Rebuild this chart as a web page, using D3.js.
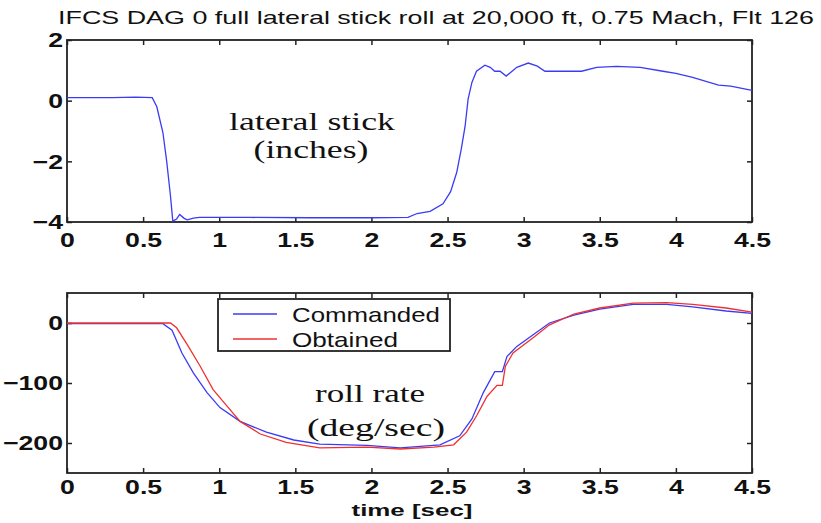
<!DOCTYPE html>
<html>
<head>
<meta charset="utf-8">
<script src="https://cdn.jsdelivr.net/npm/d3@7"></script>
<style>
  body { margin: 0; background: #fff; }
  svg { display: block; }
  .tick text { font-family: "Liberation Sans", Arial, sans-serif; font-weight: bold; font-size: 21px; fill: #111; }
  .domain { display: none; }
  .tick line { stroke: #222; stroke-width: 1.5; }
</style>
</head>
<body>
<svg width="821" height="523"></svg>
<script>
// 标题与标签
var title = "IFCS DAG 0 full lateral stick roll at 20,000 ft, 0.75 Mach, Flt 126";
var timeTicks = [0, 0.5, 1, 1.5, 2, 2.5, 3, 3.5, 4, 4.5];
var stickTicks = [-4, -2, 0, 2];
var rollTicks = [-200, -100, 0];
var seriesNames = ["Commanded", "Obtained"];
var seriesColors = ["#3b3bf5", "#f03030"];

// 横向杆位移 (inches)
var stickT = [0, 0.3, 0.45, 0.56, 0.59, 0.63, 0.655, 0.68, 0.695, 0.72, 0.74, 0.77, 0.79, 0.83, 0.87, 1.2, 1.6, 2.0, 2.24,
              2.30, 2.385, 2.47, 2.52, 2.56, 2.59, 2.615, 2.635, 2.66, 2.69, 2.745, 2.78, 2.81, 2.845, 2.885, 2.955, 3.03,
              3.09, 3.14, 3.38, 3.48, 3.61, 3.765, 3.915, 4.0, 4.11, 4.28, 4.36, 4.5];
var stickV = [0.1, 0.1, 0.12, 0.1, -0.2, -1.05, -2.0, -3.15, -3.97, -3.9, -3.75, -3.88, -3.93, -3.87, -3.85, -3.85, -3.86, -3.86, -3.85,
              -3.72, -3.65, -3.4, -3.0, -2.37, -1.6, -0.85, 0.05, 0.6, 0.97, 1.17, 1.1, 0.97, 0.97, 0.81, 1.1, 1.24,
              1.14, 0.97, 0.97, 1.1, 1.13, 1.1, 0.97, 0.9, 0.77, 0.51, 0.48, 0.34];

// 滚转角速度 (deg/sec)
var cmdT = [0, 0.63, 0.69, 0.755, 0.83, 0.92, 1.005, 1.137, 1.31, 1.49, 1.66, 1.97, 2.19, 2.45, 2.58, 2.66, 2.735,
            2.81, 2.86, 2.89, 2.955, 3.06, 3.17, 3.33, 3.5, 3.72, 3.94, 4.11, 4.33, 4.5];
var cmdV = [-1, -1, -12, -50, -83, -116, -141, -164, -182, -195, -202, -204, -208, -203, -188, -160, -116,
            -81, -81, -56, -39, -20, 0, 13, 23, 31, 31, 27, 20, 16];
var obsT = [0, 0.68, 0.72, 0.79, 0.875, 0.96, 1.05, 1.137, 1.27, 1.44, 1.66, 1.97, 2.19, 2.41, 2.54, 2.625, 2.69,
            2.76, 2.825, 2.86, 2.88, 2.93, 3.06, 3.17, 3.33, 3.5, 3.72, 3.94, 4.11, 4.33, 4.5];
var obsV = [0, 0, -8, -36, -72, -111, -138, -164, -185, -199, -208, -207, -210, -207, -203, -182, -155,
            -122, -104, -104, -72, -50, -25, -3, 15, 25, 33, 34, 31, 25, 18];

var svg = d3.select("svg");
var left = 67, right = 752;

var x = d3.scaleLinear().domain([0, 4.5]).range([left, right]);
var yTop = d3.scaleLinear().domain([-4, 2]).range([222, 40]);
var yBot = d3.scaleLinear().domain([-250, 50]).range([473, 293]);

// 拉伸文字宽度，原图横向被拉宽
function stretch(sel, k) {
    sel.each(function() {
        var w = this.getComputedTextLength();
        d3.select(this).attr("textLength", w * k).attr("lengthAdjust", "spacingAndGlyphs");
    });
}

function drawPanel(y, yTicks, labelPad) {
    var g = svg.append("g");
    g.append("g").attr("transform", "translate(0," + y.range()[0] + ")")
        .call(d3.axisBottom(x).tickValues(timeTicks).tickSize(-5).tickPadding(labelPad).tickFormat(d3.format("")))
        .call(function(a) { stretch(a.selectAll("text"), 1.27); });
    g.append("g").attr("transform", "translate(0," + y.range()[1] + ")")
        .call(d3.axisTop(x).tickValues(timeTicks).tickSize(-5).tickFormat(""));
    g.append("g").attr("transform", "translate(" + left + ",0)")
        .call(d3.axisLeft(y).tickValues(yTicks).tickSize(-5).tickPadding(4).tickFormat(d3.format("")))
        .call(function(a) { stretch(a.selectAll("text"), 1.27); });
    g.append("g").attr("transform", "translate(" + right + ",0)")
        .call(d3.axisRight(y).tickValues(yTicks).tickSize(-5).tickFormat(""));
    g.append("rect")
        .attr("x", left).attr("y", y.range()[1])
        .attr("width", right - left).attr("height", y.range()[0] - y.range()[1])
        .attr("fill", "none").attr("stroke", "#222").attr("stroke-width", 1.8);
    return g;
}

drawPanel(yTop, stickTicks, 10);
drawPanel(yBot, rollTicks, 6);

// 折线
function drawLine(ts, vs, y, color) {
    var pts = ts.map(function(t, i) { return [t, vs[i]]; });
    svg.append("path")
        .datum(pts)
        .attr("fill", "none")
        .attr("stroke", color)
        .attr("stroke-width", 1.3)
        .attr("d", d3.line().x(function(d) { return x(d[0]); }).y(function(d) { return y(d[1]); }));
}
drawLine(stickT, stickV, yTop, seriesColors[0]);
drawLine(cmdT, cmdV, yBot, seriesColors[0]);
drawLine(obsT, obsV, yBot, seriesColors[1]);

// 标题
svg.append("text")
    .attr("x", 58).attr("y", 24)
    .attr("font-family", "Liberation Sans, Arial, sans-serif")
    .attr("font-size", 19).attr("fill", "#111")
    .attr("textLength", 756).attr("lengthAdjust", "spacingAndGlyphs")
    .text(title);

// 图内说明文字
var notes = [
    { t: "lateral stick", x: 312, y: 130, w: 166 },
    { t: "(inches)", x: 311, y: 158, w: 115 },
    { t: "roll rate", x: 370, y: 402, w: 110 },
    { t: "(deg/sec)", x: 376, y: 436, w: 138 }
];
svg.selectAll(".note").data(notes).enter().append("text")
    .attr("class", "note")
    .attr("x", function(d) { return d.x; }).attr("y", function(d) { return d.y; })
    .attr("text-anchor", "middle")
    .attr("font-family", "Liberation Serif, Times New Roman, serif")
    .attr("font-size", 25).attr("fill", "#111")
    .attr("textLength", function(d) { return d.w; }).attr("lengthAdjust", "spacingAndGlyphs")
    .text(function(d) { return d.t; });

// x轴标题
svg.append("text")
    .attr("x", 412).attr("y", 516).attr("text-anchor", "middle")
    .attr("font-family", "Liberation Sans, Arial, sans-serif")
    .attr("font-size", 17).attr("font-weight", "bold").attr("fill", "#111")
    .attr("textLength", 121).attr("lengthAdjust", "spacingAndGlyphs")
    .text("time [sec]");

// 图例
var legend = svg.append("g");
legend.append("rect")
    .attr("x", 218).attr("y", 299).attr("width", 232).attr("height", 52)
    .attr("fill", "#fff").attr("stroke", "#222").attr("stroke-width", 1.8);
var legendW = [148, 106];
seriesNames.forEach(function(name, i) {
    var ly = 314 + i * 25;
    legend.append("line")
        .attr("x1", 233).attr("x2", 277).attr("y1", ly).attr("y2", ly)
        .attr("stroke", seriesColors[i]).attr("stroke-width", 1.3);
    legend.append("text")
        .attr("x", 292).attr("y", ly + 8)
        .attr("font-family", "Liberation Sans, Arial, sans-serif")
        .attr("font-size", 21).attr("fill", "#111")
        .attr("textLength", legendW[i]).attr("lengthAdjust", "spacingAndGlyphs")
        .text(name);
});
</script>
</body>
</html>
